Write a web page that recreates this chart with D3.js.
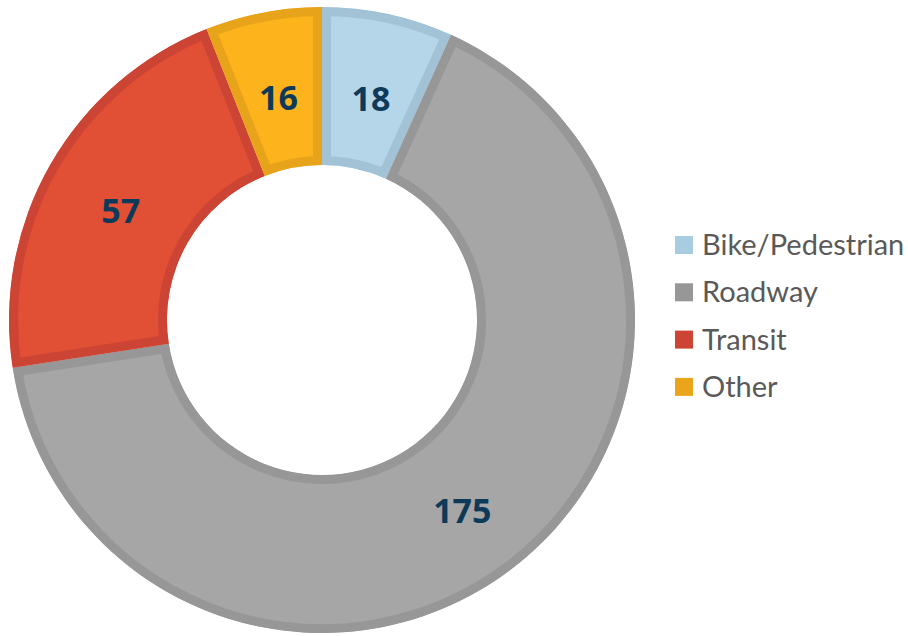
<!DOCTYPE html>
<html>
<head>
<meta charset="utf-8">
<script src="https://cdn.jsdelivr.net/npm/d3@7"></script>
<style>
  body { margin: 0; background: #fff; }
  svg { display: block; }
</style>
</head>
<body>
<svg id="donut" width="908" height="636"></svg>
<script>
// chart values
let categories = ['Bike/Pedestrian', 'Roadway', 'Transit', 'Other'];
let values = [18, 175, 57, 16];
let fills = ['#B5D5E9', '#A6A6A6', '#E14F35', '#FDB31C'];
let borders = ['#A2C3D6', '#979797', '#CC4433', '#E7A31A'];
let legendFills = ['#A9CDE0', '#979797', '#CC4433', '#EBA51A'];

let width = 908;
let height = 636;
let cx = 322, cy = 320;
let outer = 313, inner = 155;
let border = 9;

let svg = d3.select('#donut');
let defs = svg.append('defs');
let g = svg.append('g').attr('transform', 'translate(' + cx + ',' + cy + ')');

let pie = d3.pie().sort(null).value(d => d);
let arcs = pie(values);
let arc = d3.arc().innerRadius(inner).outerRadius(outer);
let labelArc = d3.arc().innerRadius(232).outerRadius(232);

// clip each slice to itself so the stroke only shows inside
defs.selectAll('clipPath')
    .data(arcs)
    .enter()
    .append('clipPath')
    .attr('id', (d, i) => 'clip' + i)
    .append('path')
    .attr('d', arc);

g.selectAll('path.slice')
    .data(arcs)
    .enter()
    .append('path')
    .attr('class', 'slice')
    .attr('d', arc)
    .attr('fill', (d, i) => fills[i])
    .attr('stroke', (d, i) => borders[i])
    .attr('stroke-width', border * 2)
    .attr('stroke-linejoin', 'miter')
    .attr('clip-path', (d, i) => 'url(#clip' + i + ')');

g.selectAll('text.val')
    .data(arcs)
    .enter()
    .append('text')
    .attr('class', 'val')
    .attr('x', d => labelArc.centroid(d)[0])
    .attr('y', d => labelArc.centroid(d)[1] + 6)
    .attr('dy', '0.36em')
    .attr('text-anchor', 'middle')
    .style('font-family', '"Open Sans", Lato, sans-serif')
    .style('font-weight', 'bold')
    .style('font-size', '34px')
    .style('fill', '#0E3A5A')
    .text(d => d.data);

// legend
let legend = svg.append('g').attr('transform', 'translate(675,245)');
let rows = legend.selectAll('g')
    .data(categories)
    .enter()
    .append('g')
    .attr('transform', (d, i) => 'translate(0,' + (i * 47.3) + ')');
rows.append('rect')
    .attr('x', 0)
    .attr('y', -9)
    .attr('width', 18)
    .attr('height', 18)
    .attr('fill', (d, i) => legendFills[i]);
rows.append('text')
    .attr('x', 27)
    .attr('y', 0)
    .attr('dy', '0.35em')
    .style('font-family', 'Lato, "Open Sans", sans-serif')
    .style('font-size', '29px')
    .style('fill', '#595959')
    .text(d => d);
</script>
</body>
</html>
